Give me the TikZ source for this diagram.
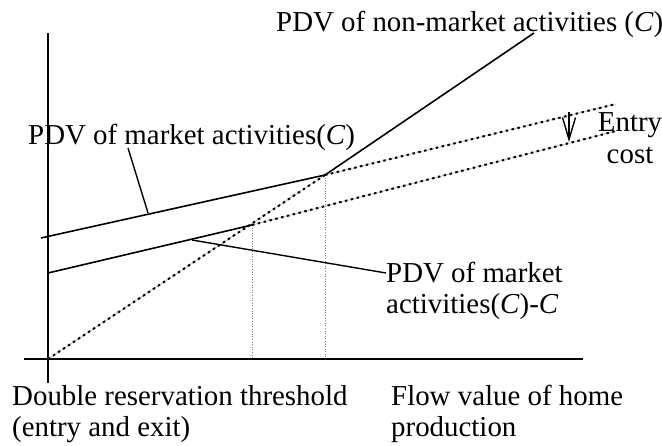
\documentclass[tikz,border=0pt]{standalone}
\usepackage{fontspec}
\setmainfont{Liberation Serif}
\usetikzlibrary{arrows.meta}
\begin{document}
\begin{tikzpicture}[x=1bp,y=-1bp,
  axisline/.style={line width=1.7bp},
  solidline/.style={line width=1.6bp},
  leader/.style={line width=1.4bp},
  dotbase/.style={line width=0.6bp, gray!60},
  dotline/.style={line width=2bp, dash pattern=on 2.5bp off 3.5bp},
  guide/.style={line width=0.6bp, gray, dotted},
  lbl/.style={font=\fontsize{29}{31}\selectfont, inner sep=0pt, align=left},
  lblc/.style={font=\fontsize{29}{33}\selectfont, inner sep=0pt, align=center}
]
\useasboundingbox (0,0) rectangle (662,446);
% key points
\coordinate (O) at (48,359);
\coordinate (ytop) at (48,33);
\coordinate (ybot) at (48,383);
\coordinate (xl) at (24,359);
\coordinate (xr) at (583,359);
\coordinate (A1) at (41,238);
\coordinate (P) at (325,175);
\coordinate (A2) at (616,104);
\coordinate (B1) at (48,273);
\coordinate (Q) at (252,225);
\coordinate (B2) at (616,131);
\coordinate (N) at (534,33);
\coordinate (Qf) at (252,359);
\coordinate (Pf) at (325,359);
\coordinate (E1) at (569,112);
\coordinate (E2) at (569,142);
\coordinate (L1a) at (128,148);
\coordinate (L1b) at (148,213);
\coordinate (L2a) at (192,240);
\coordinate (L2b) at (386,273);
% axes
\draw[axisline] (ytop) -- (ybot);
\draw[axisline] (xl) -- (xr);
% guides
\draw[guide] (Q) -- (Qf);
\draw[guide] (P) -- (Pf);
% dotted parts
\draw[dotbase] (O) -- (P);
\draw[dotline] (O) -- (P);
\draw[dotbase] (P) -- (A2);
\draw[dotline] (P) -- (A2);
\draw[dotbase] (Q) -- (B2);
\draw[dotline] (Q) -- (B2);
% solid parts
\draw[solidline] (A1) -- (P);
\draw[solidline] (B1) -- (Q);
\draw[solidline] (P) -- (N);
% leaders
\draw[leader] (L1a) -- (L1b);
\draw[leader] (L2a) -- (L2b);
% entry cost arrow
\draw[leader, -{Straight Barb[length=22bp,width=13bp]}] (E1) -- (E2);
% labels
\node[lbl, anchor=base west] (tN) at (276,32) {PDV of non-market activities (\textit{C})};
\node[lbl, anchor=base west] (tM) at (28,145) {PDV of market activities(\textit{C})};
\node[lbl, anchor=north west] (tMC) at (386,262) {PDV of market\\activities(\textit{C})-\textit{C}};
\node[lblc, anchor=north] (tE) at (630,112) {Entry\\cost};
\node[lbl, anchor=north west] (tD) at (12,385) {Double reservation threshold\\(entry and exit)};
\node[lbl, anchor=north west] (tF) at (391,385) {Flow value of home\\production};
\end{tikzpicture}
\end{document}
